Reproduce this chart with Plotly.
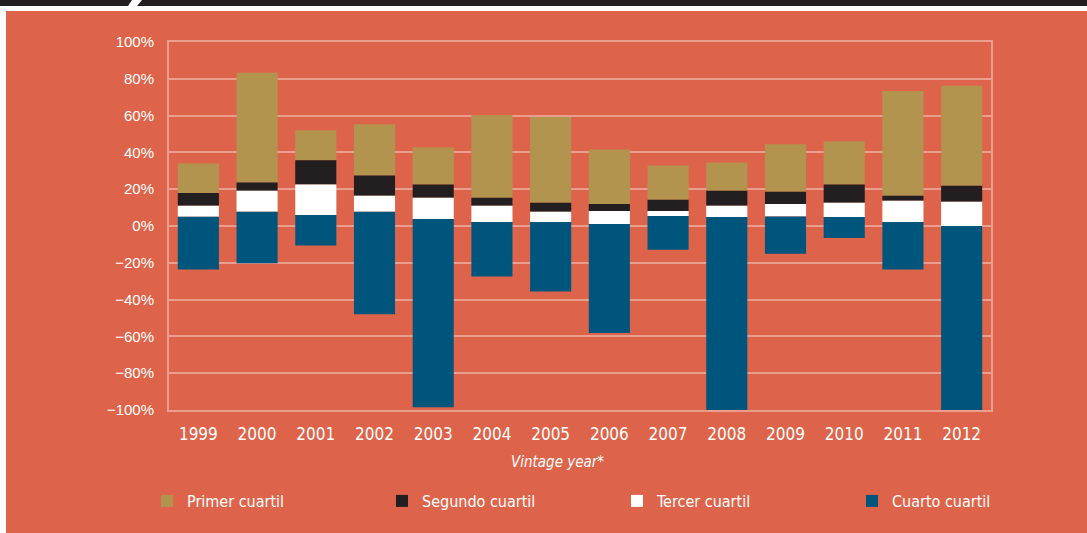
import plotly.graph_objects as go

years = ["1999", "2000", "2001", "2002", "2003", "2004", "2005",
         "2006", "2007", "2008", "2009", "2010", "2011", "2012"]
# boundaries of the quartile segments (%)
minimo = [-23.7, -20.3, -10.6, -48.0, -98.5, -27.5, -35.6, -58.2, -12.9, -100.0, -15.1, -6.5, -23.7, -100.0]
q1 = [5.0, 7.7, 6.0, 7.7, 3.8, 2.2, 2.2, 1.1, 5.5, 4.9, 5.2, 4.9, 2.2, 0.0]
mediana = [11.0, 19.2, 22.5, 16.4, 15.3, 11.0, 7.7, 8.2, 8.2, 11.0, 12.0, 12.6, 13.7, 13.2]
q3 = [18.0, 23.6, 35.8, 27.4, 22.5, 15.3, 12.6, 12.0, 14.2, 19.2, 18.6, 22.5, 16.4, 21.9]
maximo = [34.0, 83.3, 52.0, 55.3, 42.7, 60.3, 59.2, 41.6, 32.9, 34.5, 44.4, 46.0, 73.4, 76.2]

names = ["Primer cuartil", "Segundo cuartil", "Tercer cuartil", "Cuarto cuartil"]
colors = ["#B3944F", "#231F20", "#FFFFFF", "#00557D"]

ORANGE = "#DD644A"
GRID = "rgba(255,255,255,0.38)"
W, H = 1087, 533
L, R, T, B = 169, 96, 42, 123
PW, PH = W - L - R, H - T - B


def px(x):
    return (x - L) / PW


def py(y):
    return (H - B - y) / PH


segments = [
    (names[0], colors[0], q3, maximo),
    (names[1], colors[1], mediana, q3),
    (names[2], colors[2], q1, mediana),
    (names[3], colors[3], minimo, q1),
]

fig = go.Figure()
for name, col, lo, hi in segments:
    fig.add_trace(go.Bar(
        x=years, y=[h - l for l, h in zip(lo, hi)], base=lo,
        name=name, marker=dict(color=col, line=dict(width=0)),
        width=0.7,
    ))

shapes = [
    dict(type="rect", xref="paper", yref="paper", x0=px(6), x1=px(W + 5),
         y0=py(H + 5), y1=py(11), fillcolor=ORANGE, line=dict(width=0), layer="below"),
    dict(type="path", xref="paper", yref="paper",
         path=f"M {px(-5)},{py(-5)} L {px(132)},{py(-5)} L {px(132)},{py(0)} L {px(128)},{py(6)} L {px(-5)},{py(6)} Z",
         fillcolor="#231F20", line=dict(width=0), layer="below"),
    dict(type="path", xref="paper", yref="paper",
         path=f"M {px(142)},{py(-5)} L {px(W + 5)},{py(-5)} L {px(W + 5)},{py(6)} L {px(137)},{py(6)} L {px(142)},{py(0)} Z",
         fillcolor="#231F20", line=dict(width=0), layer="below"),
]

cond = "DejaVu Sans Condensed, Liberation Sans Narrow, Arial Narrow, sans-serif"

fig.update_layout(
    width=W, height=H,
    margin=dict(l=L, r=R, t=T, b=B, pad=0),
    paper_bgcolor="white", plot_bgcolor="rgba(0,0,0,0)",
    barmode="overlay", bargap=0.3,
    shapes=shapes,
    showlegend=True,
    legend=dict(orientation="h", x=px(158), xanchor="left", y=py(501), yanchor="middle",
                font=dict(family=cond, size=16, color="white"),
                entrywidth=190, traceorder="normal", bgcolor="rgba(0,0,0,0)"),
    annotations=[dict(text="<i>Vintage year*</i>", xref="paper", yref="paper",
                      x=px(557), y=py(462), xanchor="center", yanchor="middle",
                      showarrow=False, font=dict(family=cond, size=15, color="white"))],
    xaxis=dict(type="category", showgrid=False, showline=True, linecolor=GRID, linewidth=2,
               mirror=True, ticks="", ticklabelstandoff=8,
               tickfont=dict(family=cond, size=17, color="white")),
    yaxis=dict(range=[-100, 100], dtick=20, ticksuffix="%", showgrid=True, gridcolor=GRID,
               gridwidth=2, zeroline=False, showline=True, linecolor=GRID, linewidth=2,
               mirror=True, ticks="", ticklabelstandoff=10,
               tickfont=dict(family="Liberation Sans, Arial, sans-serif", size=15, color="white")),
)

fig.write_html("out.html", config={"displayModeBar": False},
               post_script="document.body.style.margin='0px';document.body.style.overflow='hidden';")
